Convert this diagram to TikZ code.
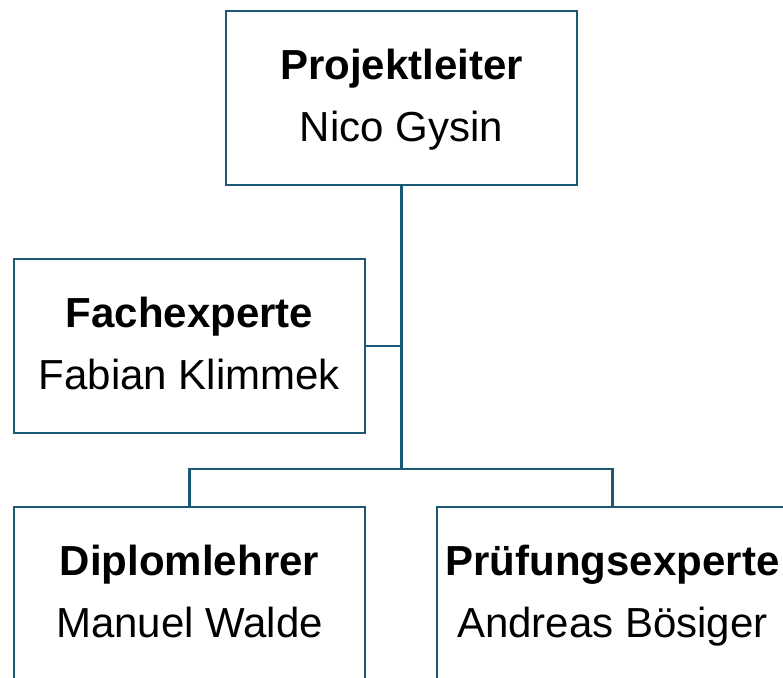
\documentclass[tikz,border=0pt]{standalone}
\usepackage{fontspec}
\setmainfont{Liberation Sans}
\definecolor{linec}{RGB}{26,88,118}
\begin{document}
\begin{tikzpicture}[x=1pt,y=-1pt,
  orgbox/.style={draw=linec,line width=2.8pt,fill=white,minimum width=351pt,minimum height=174pt,inner sep=0pt,align=center,font=\fontsize{42}{62}\selectfont},
  conn/.style={draw=linec,line width=2.8pt}]
\path[use as bounding box] (0,0) rectangle (783,677);
\clip (0,0) rectangle (783,677);
\fill[white] (0,0) rectangle (783,677);
\node[orgbox] (pl) at (401.5,98) {\strut\textbf{Projektleiter}\\\strut Nico Gysin};
\node[orgbox] (fe) at (189.5,346) {\strut\textbf{Fachexperte}\\\strut Fabian Klimmek};
\node[orgbox] (dl) at (189.5,594) {\strut\textbf{Diplomlehrer}\\\strut Manuel Walde};
\node[orgbox] (pe) at (612.5,594) {\strut\textbf{Prüfungsexperte}\\\strut Andreas Bösiger};
\coordinate (j) at (401.5,469);
\draw[conn] (pl.south) -- (j);
\draw[conn] (fe.east) -- (fe.east -| pl.south);
\draw[conn] (dl.north) -- (dl.north |- j) -- (pe.north |- j) -- (pe.north);
\end{tikzpicture}
\end{document}
